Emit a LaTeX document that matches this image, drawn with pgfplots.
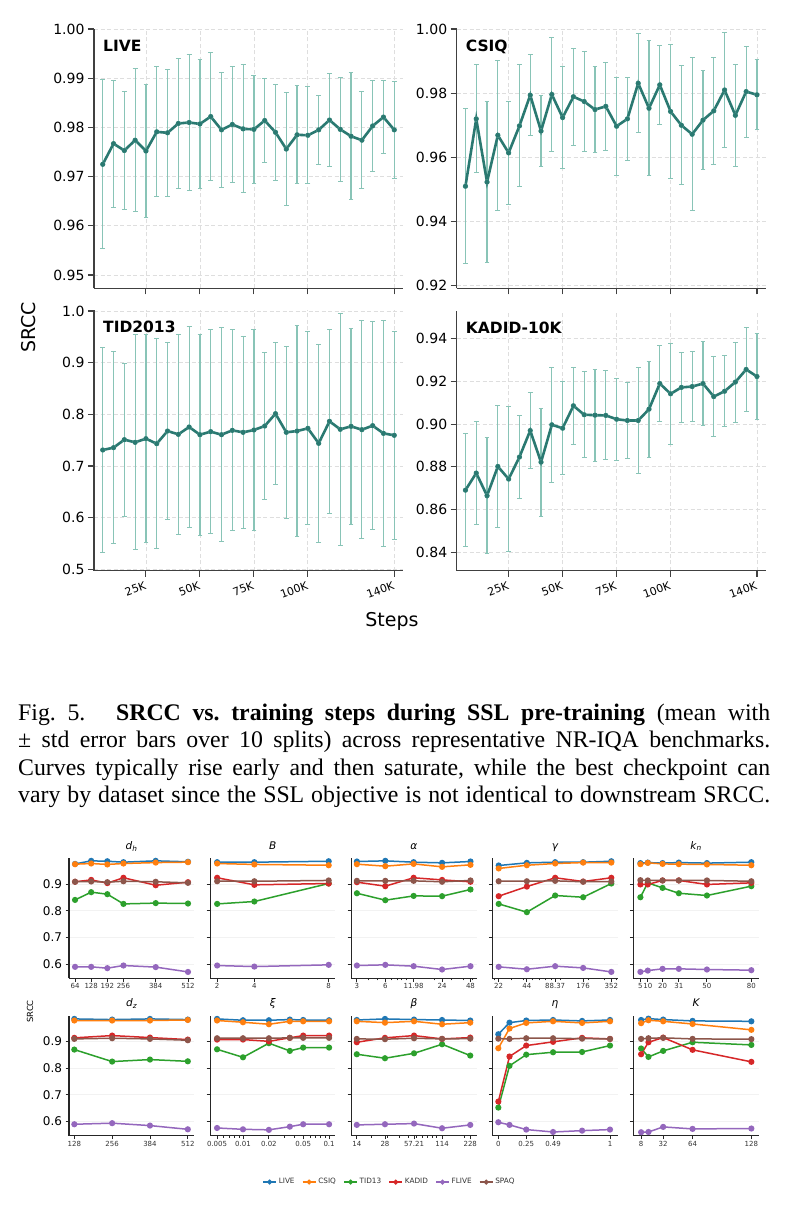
\documentclass[border=0pt]{standalone}
\usepackage{pgfplots}
\pgfplotsset{compat=1.18}
\usepackage{pgfplotstable}
\usepackage{fontspec}
\setmainfont{DejaVu Sans}
\newfontfamily\capfont{Liberation Serif}

\definecolor{meanc}{RGB}{42,121,113}
\definecolor{errc}{RGB}{137,196,183}
\definecolor{gridc}{RGB}{222,222,222}
\definecolor{spinec}{RGB}{64,64,64}
\definecolor{cLIVE}{HTML}{1F77B4}
\definecolor{cCSIQ}{HTML}{FF7F0E}
\definecolor{cTID}{HTML}{2CA02C}
\definecolor{cKADID}{HTML}{D62728}
\definecolor{cFLIVE}{HTML}{9467BD}
\definecolor{cSPAQ}{HTML}{8C564B}

% SRCC during SSL pre-training: step (K), mean, std
\pgfplotstableread{
s m e
5 0.9725 0.0172
10 0.9767 0.0129
15 0.9753 0.0119
20 0.9774 0.0145
25 0.9752 0.0135
30 0.9791 0.0132
35 0.9789 0.0129
40 0.9808 0.0133
45 0.9810 0.0139
50 0.9807 0.0132
55 0.9822 0.0130
60 0.9795 0.0117
65 0.9806 0.0117
70 0.9797 0.0130
75 0.9796 0.0109
80 0.9814 0.0086
85 0.9790 0.0097
90 0.9756 0.0115
95 0.9785 0.0100
100 0.9784 0.0099
105 0.9795 0.0070
110 0.9815 0.0094
115 0.9796 0.0106
120 0.9782 0.0129
125 0.9774 0.0099
130 0.9803 0.0093
135 0.9821 0.0074
140 0.9795 0.0098
}\liveTab

\pgfplotstableread{
s m e
5 0.9510 0.0242
10 0.9720 0.0168
15 0.9523 0.0251
20 0.9669 0.0234
25 0.9614 0.0160
30 0.9698 0.0190
35 0.9794 0.0125
40 0.9682 0.0112
45 0.9796 0.0177
50 0.9724 0.0159
55 0.9789 0.0151
60 0.9774 0.0156
65 0.9749 0.0135
70 0.9759 0.0137
75 0.9697 0.0153
80 0.9720 0.0130
85 0.9831 0.0155
90 0.9753 0.0211
95 0.9826 0.0124
100 0.9743 0.0209
105 0.9700 0.0186
110 0.9672 0.0239
115 0.9716 0.0154
120 0.9745 0.0167
125 0.9810 0.0178
130 0.9731 0.0158
135 0.9805 0.0142
140 0.9795 0.0109
}\csiqTab

\pgfplotstableread{
s m e
5 0.7310 0.198
10 0.7355 0.1855
15 0.7510 0.148
20 0.7458 0.208
25 0.7529 0.201
30 0.7432 0.2035
35 0.7677 0.171
40 0.7613 0.194
45 0.7755 0.195
50 0.7606 0.1945
55 0.7665 0.198
60 0.7606 0.207
65 0.7690 0.1945
70 0.7652 0.1855
75 0.7697 0.194
80 0.7774 0.143
85 0.8013 0.137
90 0.7652 0.167
95 0.7677 0.204
100 0.7729 0.187
105 0.7439 0.192
110 0.7865 0.178
115 0.7710 0.224
120 0.7768 0.190
125 0.7703 0.211
130 0.7781 0.201
135 0.7632 0.219
140 0.7594 0.201
}\tidTab

\pgfplotstableread{
s m e
5 0.8691 0.0264
10 0.8771 0.0243
15 0.8665 0.0271
20 0.8802 0.0285
25 0.8743 0.0340
30 0.8846 0.0193
35 0.8970 0.0179
40 0.8822 0.0253
45 0.8997 0.0268
50 0.8981 0.0218
55 0.9086 0.0179
60 0.9044 0.0202
65 0.9042 0.0216
70 0.9041 0.0208
75 0.9023 0.0193
80 0.9017 0.0178
85 0.9017 0.0246
90 0.9070 0.0224
95 0.9190 0.0177
100 0.9142 0.0236
105 0.9172 0.0165
110 0.9176 0.0165
115 0.9190 0.0197
120 0.9129 0.0186
125 0.9154 0.0165
130 0.9197 0.0187
135 0.9256 0.0195
140 0.9223 0.0199
}\kadidTab

% Hyper-parameter sweeps: SRCC per dataset
\pgfplotstableread{
x live csiq tid kadid flive spaq
64 0.976 0.975 0.841 0.909 0.590 0.909
128 0.9875 0.9775 0.870 0.916 0.590 0.910
192 0.986 0.974 0.8625 0.904 0.585 0.9075
256 0.9825 0.9775 0.826 0.924 0.595 0.911
384 0.9875 0.981 0.829 0.896 0.589 0.909
512 0.984 0.9825 0.8275 0.9075 0.571 0.905
}\dhTab
\pgfplotstableread{
x live csiq tid kadid flive spaq
2 0.9825 0.9775 0.826 0.924 0.595 0.911
4 0.9825 0.974 0.835 0.8975 0.591 0.911
8 0.986 0.971 0.9025 0.9025 0.5975 0.914
}\bTab
\pgfplotstableread{
x live csiq tid kadid flive spaq
3 0.985 0.975 0.866 0.9075 0.595 0.9125
6 0.9875 0.9675 0.840 0.8925 0.5975 0.9125
11.98 0.9825 0.976 0.856 0.924 0.5925 0.9125
24 0.980 0.965 0.855 0.916 0.580 0.909
48 0.985 0.9725 0.880 0.909 0.5925 0.914
}\alphaTab
\pgfplotstableread{
x live csiq tid kadid flive spaq
22 0.970 0.959 0.826 0.855 0.590 0.911
44 0.980 0.971 0.795 0.891 0.581 0.911
88.37 0.9825 0.9775 0.8575 0.924 0.5925 0.9125
176 0.9825 0.981 0.851 0.910 0.586 0.909
352 0.986 0.981 0.9025 0.924 0.571 0.910
}\gammaTab
\pgfplotstableread{
x live csiq tid kadid flive spaq
5 0.979 0.975 0.851 0.899 0.571 0.915
10 0.981 0.980 0.905 0.899 0.576 0.914
20 0.979 0.976 0.886 0.914 0.5825 0.914
31 0.981 0.975 0.866 0.914 0.5825 0.914
50 0.979 0.974 0.8575 0.899 0.580 0.914
80 0.9825 0.971 0.8925 0.905 0.5775 0.911
}\knTab
\pgfplotstableread{
x live csiq tid kadid flive spaq
128 0.985 0.979 0.870 0.914 0.590 0.910
256 0.9825 0.979 0.825 0.9225 0.594 0.9125
384 0.985 0.979 0.8325 0.915 0.585 0.910
512 0.9825 0.981 0.826 0.9075 0.571 0.905
}\dzTab
\pgfplotstableread{
x live csiq tid kadid flive spaq
0.005 0.985 0.979 0.871 0.9075 0.576 0.9125
0.01 0.980 0.9725 0.841 0.9075 0.571 0.9125
0.02 0.980 0.965 0.894 0.901 0.569 0.9125
0.035 0.9825 0.976 0.865 0.914 0.581 0.914
0.05 0.981 0.976 0.8775 0.9225 0.590 0.914
0.1 0.980 0.976 0.8775 0.9225 0.590 0.914
}\xiTab
\pgfplotstableread{
x live csiq tid kadid flive spaq
14 0.981 0.976 0.8525 0.8975 0.5875 0.910
28 0.985 0.971 0.8375 0.914 0.590 0.909
57.21 0.9825 0.976 0.856 0.9225 0.5925 0.9125
114 0.981 0.965 0.890 0.910 0.575 0.910
228 0.979 0.971 0.8475 0.915 0.5875 0.911
}\betaTab
\pgfplotstableread{
x live csiq tid kadid flive spaq
0 0.9275 0.875 0.6525 0.675 0.5975 0.911
0.1 0.971 0.949 0.809 0.844 0.5875 0.910
0.25 0.979 0.970 0.851 0.885 0.570 0.9125
0.49 0.981 0.976 0.860 0.899 0.561 0.9125
0.75 0.9775 0.970 0.861 0.914 0.566 0.911
1 0.981 0.976 0.885 0.910 0.570 0.910
}\etaTab
\pgfplotstableread{
x live csiq tid kadid flive spaq
8 0.981 0.969 0.874 0.8525 0.560 0.910
16 0.986 0.980 0.8425 0.8975 0.561 0.9125
32 0.9825 0.976 0.865 0.915 0.580 0.914
64 0.9775 0.966 0.8975 0.869 0.5725 0.910
128 0.976 0.944 0.8875 0.824 0.574 0.909
}\KTab

\newcommand\sixplots[1]{%
  \addplot table[x=x,y=live]{#1};
  \addplot table[x=x,y=csiq]{#1};
  \addplot table[x=x,y=tid]{#1};
  \addplot table[x=x,y=kadid]{#1};
  \addplot table[x=x,y=flive]{#1};
  \addplot table[x=x,y=spaq]{#1};
}

\pgfplotsset{
  /pgf/number format/assume math mode=true,
  topax/.style={
    scale only axis, width=309pt,
    xmin=0.95, xmax=144.05,
    axis x line*=bottom, axis y line*=left,
    axis line style={-, draw=spinec, line width=1.4pt},
    tick align=outside, major tick length=6pt,
    tick style={draw=spinec, line width=1.1pt},
    xtick={25,50,75,100,140},
    xmajorgrids, ymajorgrids,
    major grid style={draw=gridc, line width=0.8pt, dash pattern=on 4pt off 2.5pt},
    yticklabel style={font=\fontsize{14}{16}\selectfont,
      /pgf/number format/.cd, fixed, fixed zerofill, precision=2, /tikz/.cd},
    xticklabel style={font=\fontsize{11}{13}\selectfont, rotate=20, anchor=north east},
    clip=false,
  },
  toprow/.style={xticklabels={}},
  botrow/.style={xticklabels={25K,50K,75K,100K,140K}},
  errplot/.style={errc, only marks, mark=none, forget plot, line width=1.2pt,
    error bars/y dir=both, error bars/y explicit,
    error bars/error bar style={draw=errc, line width=1.2pt},
    error bars/error mark=-,
    error bars/error mark options={rotate=90, draw=errc, line width=1pt, mark size=2.4pt}},
  meanplot/.style={draw=meanc, line width=2.6pt, mark=*, mark size=2.2pt,
    mark options={fill=meanc, draw=meanc, line width=0.5pt}},
  smallax/.style={
    scale only axis, width=125.3pt, height=120pt, ymin=0.547, ymax=0.997,
    axis x line*=bottom, axis y line*=left,
    axis line style={-, draw=black!85, line width=1.1pt},
    tick align=outside, major tick length=3.5pt, minor tick length=2pt,
    tick style={draw=black!85, line width=0.9pt},
    ytick={0.6,0.7,0.8,0.9}, yticklabels={},
    ymajorgrids, major grid style={draw=black!5, line width=0.9pt},
    xticklabel style={font=\fontsize{7}{8}\selectfont, text=black!80, inner sep=1.5pt},
    title style={font=\fontsize{10.5}{12}\selectfont, at={(0.5,1)}, anchor=base, yshift=3pt},
    cycle list={{cLIVE},{cCSIQ},{cTID},{cKADID},{cFLIVE},{cSPAQ}},
    every axis plot/.append style={line width=1.5pt, mark=*, mark size=2.3pt},
    clip=false,
  },
  firstcol/.style={yticklabels={0.6,0.7,0.8,0.9},
    yticklabel style={font=\fontsize{12}{14}\selectfont}},
}

\tikzset{panelname/.style={anchor=north west, inner sep=0pt, xshift=9pt, yshift=-11pt,
    font=\bfseries\fontsize{15.5}{17}\selectfont}}

\begin{document}
\begin{tikzpicture}
\fill[white] (0pt,0pt) rectangle (785pt,-1207pt);
\useasboundingbox (0pt,0pt) rectangle (785pt,-1207pt);

% ---- SRCC vs. training steps ----
\begin{axis}[topax, toprow, at={(94pt,-288.3pt)}, anchor=south west, height=259.3pt,
  ymin=0.9473, ymax=1.0, ytick={0.95,0.96,0.97,0.98,0.99,1.00}]
\addplot[errplot] table[x=s,y=m,y error=e]{\liveTab};
\addplot[meanplot] table[x=s,y=m]{\liveTab};
\node[panelname] at (rel axis cs:0,1) {LIVE};
\end{axis}

\begin{axis}[topax, toprow, at={(456.7pt,-288.3pt)}, anchor=south west, height=259.3pt,
  ymin=0.9192, ymax=1.0, ytick={0.92,0.94,0.96,0.98,1.00}]
\addplot[errplot] table[x=s,y=m,y error=e]{\csiqTab};
\addplot[meanplot] table[x=s,y=m]{\csiqTab};
\node[panelname] at (rel axis cs:0,1) {CSIQ};
\end{axis}

\begin{axis}[topax, botrow, at={(94pt,-570.7pt)}, anchor=south west, height=260.7pt,
  ymin=0.4973, ymax=1.002, ytick={0.5,0.6,0.7,0.8,0.9,1.0},
  yticklabel style={/pgf/number format/precision=1}]
\addplot[errplot] table[x=s,y=m,y error=e]{\tidTab};
\addplot[meanplot] table[x=s,y=m]{\tidTab};
\node[panelname] at (rel axis cs:0,1) {TID2013};
\end{axis}

\begin{axis}[topax, botrow, at={(456.7pt,-570.7pt)}, anchor=south west, height=260pt,
  ymin=0.8314, ymax=0.9531, ytick={0.84,0.86,0.88,0.90,0.92,0.94}]
\addplot[errplot] table[x=s,y=m,y error=e]{\kadidTab};
\addplot[meanplot] table[x=s,y=m]{\kadidTab};
\node[panelname] at (rel axis cs:0,1) {KADID-10K};
\end{axis}

\node[rotate=90, font=\fontsize{19}{21}\selectfont] at (28.3pt,-327.3pt) {SRCC};
\node[font=\fontsize{19}{21}\selectfont] at (392pt,-621pt) {Steps};

% ---- caption ----
\begin{scope}[every node/.style={anchor=base west, inner sep=0pt, font=\capfont\frenchspacing\fontsize{23.8}{27}\selectfont}]
\node at (18pt,-720.5pt) {\makebox[752pt][s]{Fig. 5.\hspace{0.8em} \textbf{SRCC vs. training steps during SSL pre-training} (mean with}};
\node at (18pt,-747.8pt) {\makebox[752pt][s]{± std error bars over 10 splits) across representative NR-IQA benchmarks.}};
\node at (18pt,-775.1pt) {\makebox[752pt][s]{Curves typically rise early and then saturate, while the best checkpoint can}};
\node at (18pt,-802.4pt) {\makebox[752pt][s]{vary by dataset since the SSL objective is not identical to downstream SRCC.}};
\end{scope}

% ---- hyper-parameter sweeps, first row ----
\begin{axis}[smallax, firstcol, at={(69pt,-978.3pt)}, anchor=south west,
  title={\itshape d\textsubscript{h}}, xmin=40, xmax=537,
  xtick={64,128,192,256,384,512}, xticklabels={64,128,192,256,384,512}]
\sixplots{\dhTab}
\end{axis}

\begin{axis}[smallax, at={(210.1pt,-978.3pt)}, anchor=south west,
  title={\itshape B}, xmin=1.62, xmax=8.36,
  xtick={2,4,8}, xticklabels={2,4,8}]
\sixplots{\bTab}
\end{axis}

\begin{axis}[smallax, at={(351.2pt,-978.3pt)}, anchor=south west,
  title={\itshape α}, xmode=log, xmin=2.61, xmax=55.6,
  xtick={3,6,11.98,24,48}, xticklabels={3,6,11.98,24,48},
  minor xtick={4,5,7,8,9,10,20,30,40,50}]
\sixplots{\alphaTab}
\end{axis}

\begin{axis}[smallax, at={(492.3pt,-978.3pt)}, anchor=south west,
  title={\itshape γ}, xmode=log, xmin=18.8, xmax=411,
  xtick={22,44,88.37,176,352}, xticklabels={22,44,88.37,176,352},
  minor xtick={20,30,40,50,60,70,80,90,100,200,300,400}]
\sixplots{\gammaTab}
\end{axis}

\begin{axis}[smallax, at={(633.4pt,-978.3pt)}, anchor=south west,
  title={\itshape k\textsubscript{n}}, xmin=0.27, xmax=85,
  xtick={5,10,20,31,50,80}, xticklabels={5,10,20,31,50,80}]
\sixplots{\knTab}
\end{axis}

% ---- hyper-parameter sweeps, second row ----
\begin{axis}[smallax, firstcol, at={(69pt,-1135.7pt)}, anchor=south west,
  title={\itshape d\textsubscript{z}}, xmin=110, xmax=534,
  xtick={128,256,384,512}, xticklabels={128,256,384,512}]
\sixplots{\dzTab}
\end{axis}

\begin{axis}[smallax, at={(210.1pt,-1135.7pt)}, anchor=south west,
  title={\itshape ξ}, xmode=log, xmin=0.00415, xmax=0.1184,
  xtick={0.005,0.01,0.02,0.05,0.1}, xticklabels={0.005,0.01,0.02,0.05,0.1},
  minor xtick={0.006,0.007,0.008,0.009,0.03,0.04,0.06,0.07,0.08,0.09}]
\sixplots{\xiTab}
\end{axis}

\begin{axis}[smallax, at={(351.2pt,-1135.7pt)}, anchor=south west,
  title={\itshape β}, xmode=log, xmin=12.2, xmax=266,
  xtick={14,28,57.21,114,228}, xticklabels={14,28,57.21,114,228},
  minor xtick={20,30,40,50,60,70,80,90,100,200},
  legend style={at={(0.306,-0.386)}, anchor=center, draw=none, fill=none,
    legend columns=6, font=\fontsize{7.3}{8}\selectfont, text=black!80,
    /tikz/every even column/.append style={column sep=5.5pt},
    /tikz/every odd column/.append style={column sep=0pt}},
  legend image code/.code={\draw[mark repeat=2, mark phase=2, line width=1.2pt, mark size=1.9pt]
    plot coordinates {(0pt,0pt) (6.5pt,0pt) (13pt,0pt)};}]
\sixplots{\betaTab}
\legend{LIVE,CSIQ,TID13,KADID,FLIVE,SPAQ}
\end{axis}

\begin{axis}[smallax, at={(492.3pt,-1135.7pt)}, anchor=south west,
  title={\itshape η}, xmin=-0.054, xmax=1.068,
  xtick={0,0.25,0.49,1}, xticklabels={0,0.25,0.49,1}]
\sixplots{\etaTab}
\end{axis}

\begin{axis}[smallax, at={(633.4pt,-1135.7pt)}, anchor=south west,
  title={\itshape K}, xmin=-0.4, xmax=136,
  xtick={8,32,64,128}, xticklabels={8,32,64,128}]
\sixplots{\KTab}
\end{axis}

\node[rotate=90, font=\fontsize{8.4}{10}\selectfont] at (30pt,-1011.5pt) {SRCC};
\end{tikzpicture}
\end{document}
